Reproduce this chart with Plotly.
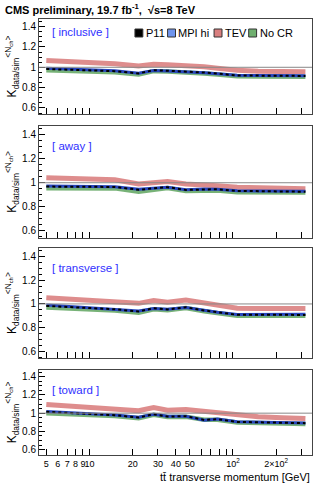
import plotly.graph_objects as go
from plotly.subplots import make_subplots

# ttbar transverse momentum points [GeV]
pt = [5, 7, 10, 15, 22, 28, 35, 47, 63, 78, 107, 150, 220, 320]

regions = ["inclusive", "away", "transverse", "toward"]

# ratio data/sim of <N_ch>, one list per region and tune
tev = {
    "inclusive": [1.066, 1.058, 1.05, 1.035, 1.013, 1.03, 1.025, 1.02, 1.005, 0.99, 0.97, 0.962, 0.958, 0.955],
    "away": [1.042, 1.038, 1.033, 1.025, 0.99, 1.0, 1.011, 0.99, 0.984, 0.975, 0.962, 0.957, 0.954, 0.95],
    "transverse": [1.053, 1.042, 1.032, 1.02, 1.005, 1.028, 1.014, 1.033, 1.01, 0.99, 0.964, 0.962, 0.962, 0.961],
    "toward": [1.095, 1.08, 1.068, 1.05, 1.026, 1.062, 1.033, 1.04, 1.02, 1.005, 0.971, 0.96, 0.95, 0.941],
}
p11 = {
    "inclusive": [0.983, 0.978, 0.972, 0.962, 0.94, 0.972, 0.966, 0.96, 0.948, 0.938, 0.92, 0.918, 0.917, 0.915],
    "away": [0.968, 0.967, 0.966, 0.965, 0.942, 0.955, 0.963, 0.94, 0.947, 0.946, 0.932, 0.93, 0.928, 0.925],
    "transverse": [0.983, 0.975, 0.966, 0.955, 0.936, 0.964, 0.953, 0.972, 0.945, 0.93, 0.908, 0.908, 0.908, 0.907],
    "toward": [1.015, 1.003, 0.992, 0.978, 0.952, 0.989, 0.963, 0.967, 0.926, 0.934, 0.904, 0.9, 0.895, 0.89],
}
mpi_hi = {
    "inclusive": [0.99, 0.984, 0.976, 0.965, 0.942, 0.968, 0.964, 0.958, 0.946, 0.936, 0.921, 0.919, 0.918, 0.917],
    "away": [0.972, 0.971, 0.969, 0.967, 0.945, 0.957, 0.962, 0.942, 0.948, 0.945, 0.934, 0.932, 0.93, 0.928],
    "transverse": [0.992, 0.98, 0.97, 0.958, 0.94, 0.962, 0.955, 0.97, 0.945, 0.93, 0.91, 0.911, 0.912, 0.912],
    "toward": [1.018, 1.006, 0.995, 0.98, 0.955, 0.987, 0.965, 0.965, 0.922, 0.935, 0.906, 0.902, 0.898, 0.893],
}
no_cr = {
    "inclusive": [0.972, 0.968, 0.962, 0.95, 0.93, 0.962, 0.958, 0.952, 0.94, 0.93, 0.912, 0.91, 0.908, 0.906],
    "away": [0.955, 0.955, 0.954, 0.953, 0.925, 0.945, 0.955, 0.932, 0.938, 0.935, 0.92, 0.92, 0.92, 0.918],
    "transverse": [0.97, 0.963, 0.955, 0.945, 0.925, 0.955, 0.947, 0.965, 0.938, 0.922, 0.9, 0.9, 0.9, 0.9],
    "toward": [1.0, 0.992, 0.982, 0.968, 0.945, 0.982, 0.958, 0.96, 0.928, 0.928, 0.898, 0.893, 0.888, 0.882],
}

x_tickvals = [5, 6, 7, 8, 9, 10, 20, 30, 40, 50, 60, 70, 80, 90, 100, 200, 300]
x_ticktext = ["5", "6", "7", "8", "9", "10", "20", "30", "40", "50", "", "", "", "", "10<sup>2</sup>", "2\u00d710<sup>2</sup>", ""]
y_tickvals = [0.6, 0.8, 1.0, 1.2, 1.4]
y_ticktext = ["0.6", "0.8", "1", "1.2", "1.4"]

RED = "rgba(214,112,112,0.8)"
GREEN = "rgba(95,165,95,0.85)"
BLUE = "rgb(40,70,190)"
BLACK = "black"

# pixel layout: plot area from y=19 to y=455
domains = [[0.782, 1.0], [0.498, 0.755], [0.222, 0.475], [0.0, 0.195]]

fig = make_subplots(rows=4, cols=1, shared_xaxes=True, vertical_spacing=0.03)

for i, reg in enumerate(regions):
    row = i + 1
    fig.add_trace(go.Scatter(x=pt, y=tev[reg], mode="lines", line=dict(color=RED, width=5),
                             showlegend=False), row=row, col=1)
    fig.add_trace(go.Scatter(x=pt, y=no_cr[reg], mode="lines", line=dict(color=GREEN, width=4.5),
                             showlegend=False), row=row, col=1)
    fig.add_trace(go.Scatter(x=pt, y=mpi_hi[reg], mode="lines", line=dict(color=BLUE, width=3),
                             showlegend=False), row=row, col=1)
    fig.add_trace(go.Scatter(x=pt, y=p11[reg], mode="lines", line=dict(color=BLACK, width=2, dash="dot"),
                             showlegend=False), row=row, col=1)
    fig.add_hline(y=1, line=dict(color="#888888", width=1), row=row, col=1)

    yname = "yaxis" if i == 0 else f"yaxis{row}"
    fig.layout[yname].update(domain=domains[i])

    # region label
    top = domains[i][1]
    off = 13 if i == 0 else 20
    fig.add_annotation(text=f"[ {reg} ]", xref="paper", yref="paper",
                       x=11 / 276, y=top - off / 436, xanchor="left", yanchor="middle",
                       showarrow=False, font=dict(color="#3030ff", size=11.5))

fig.update_xaxes(type="log", range=[0.648, 2.551], tickvals=x_tickvals, ticktext=x_ticktext,
                 tickangle=0, ticks="inside", ticklen=6, tickcolor="black", showline=True,
                 linecolor="#444444", linewidth=1, mirror=True, showgrid=False, zeroline=False,
                 tickfont=dict(size=9, color="black"))
fig.update_yaxes(range=[0.54, 1.475], tickvals=y_tickvals, ticktext=y_ticktext,
                 ticks="inside", ticklen=6, tickcolor="black", showline=True, linecolor="#444444",
                 linewidth=1, mirror=True, showgrid=False, zeroline=False,
                 minor=dict(tickvals=[0.55, 0.65, 0.7, 0.75, 0.85, 0.9, 0.95, 1.05, 1.1, 1.15, 1.25, 1.3, 1.35, 1.45],
                            ticks="inside", ticklen=3, tickcolor="black"),
                 tickfont=dict(size=10, color="black"),
                 title=dict(text="K<sub>data/sim</sub><sup>&lt;N<sub>ch</sub>&gt;</sup>",
                            font=dict(size=12, color="black"), standoff=2))

# legend made of boxes and labels
legend_items = [("P11", "black", 133), ("MPI hi", "#6f95ee", 166), ("TEV", "#d97f7f", 213), ("No CR", "#6faf6f", 248)]
for name, col, px in legend_items:
    x0 = (px - 36) / 276
    fig.add_shape(type="rect", xref="paper", yref="paper", x0=x0, x1=x0 + 8 / 276,
                  y0=(455 - 37) / 436, y1=(455 - 29) / 436, fillcolor=col,
                  line=dict(color="#333333", width=1))
    fig.add_annotation(text=name, xref="paper", yref="paper", x=x0 + 9 / 276, y=(455 - 33) / 436,
                       xanchor="left", yanchor="middle", showarrow=False,
                       font=dict(size=11, color="black"))

fig.add_annotation(text="tt\u0304 transverse momentum [GeV]", xref="paper", yref="paper",
                   x=1, y=-22 / 436, xanchor="right", yanchor="middle", showarrow=False,
                   font=dict(size=11, color="black"))

fig.update_layout(
    width=332, height=488, autosize=False,
    margin=dict(l=36, r=20, t=19, b=33),
    paper_bgcolor="white", plot_bgcolor="white",
    font=dict(family="Liberation Sans, Arial, sans-serif", color="black"),
    title=dict(text="<b>CMS preliminary, 19.7 fb<sup>-1</sup>,  \u221As=8 TeV</b>",
               x=5 / 332, xanchor="left", y=1 - 10 / 488, yanchor="middle",
               font=dict(size=11, color="black")),
)

# page body has a default margin; drop it so the figure fills the window
fig.write_html("out.html", config={"displayModeBar": False},
               post_script="document.body.style.margin='0px';")
